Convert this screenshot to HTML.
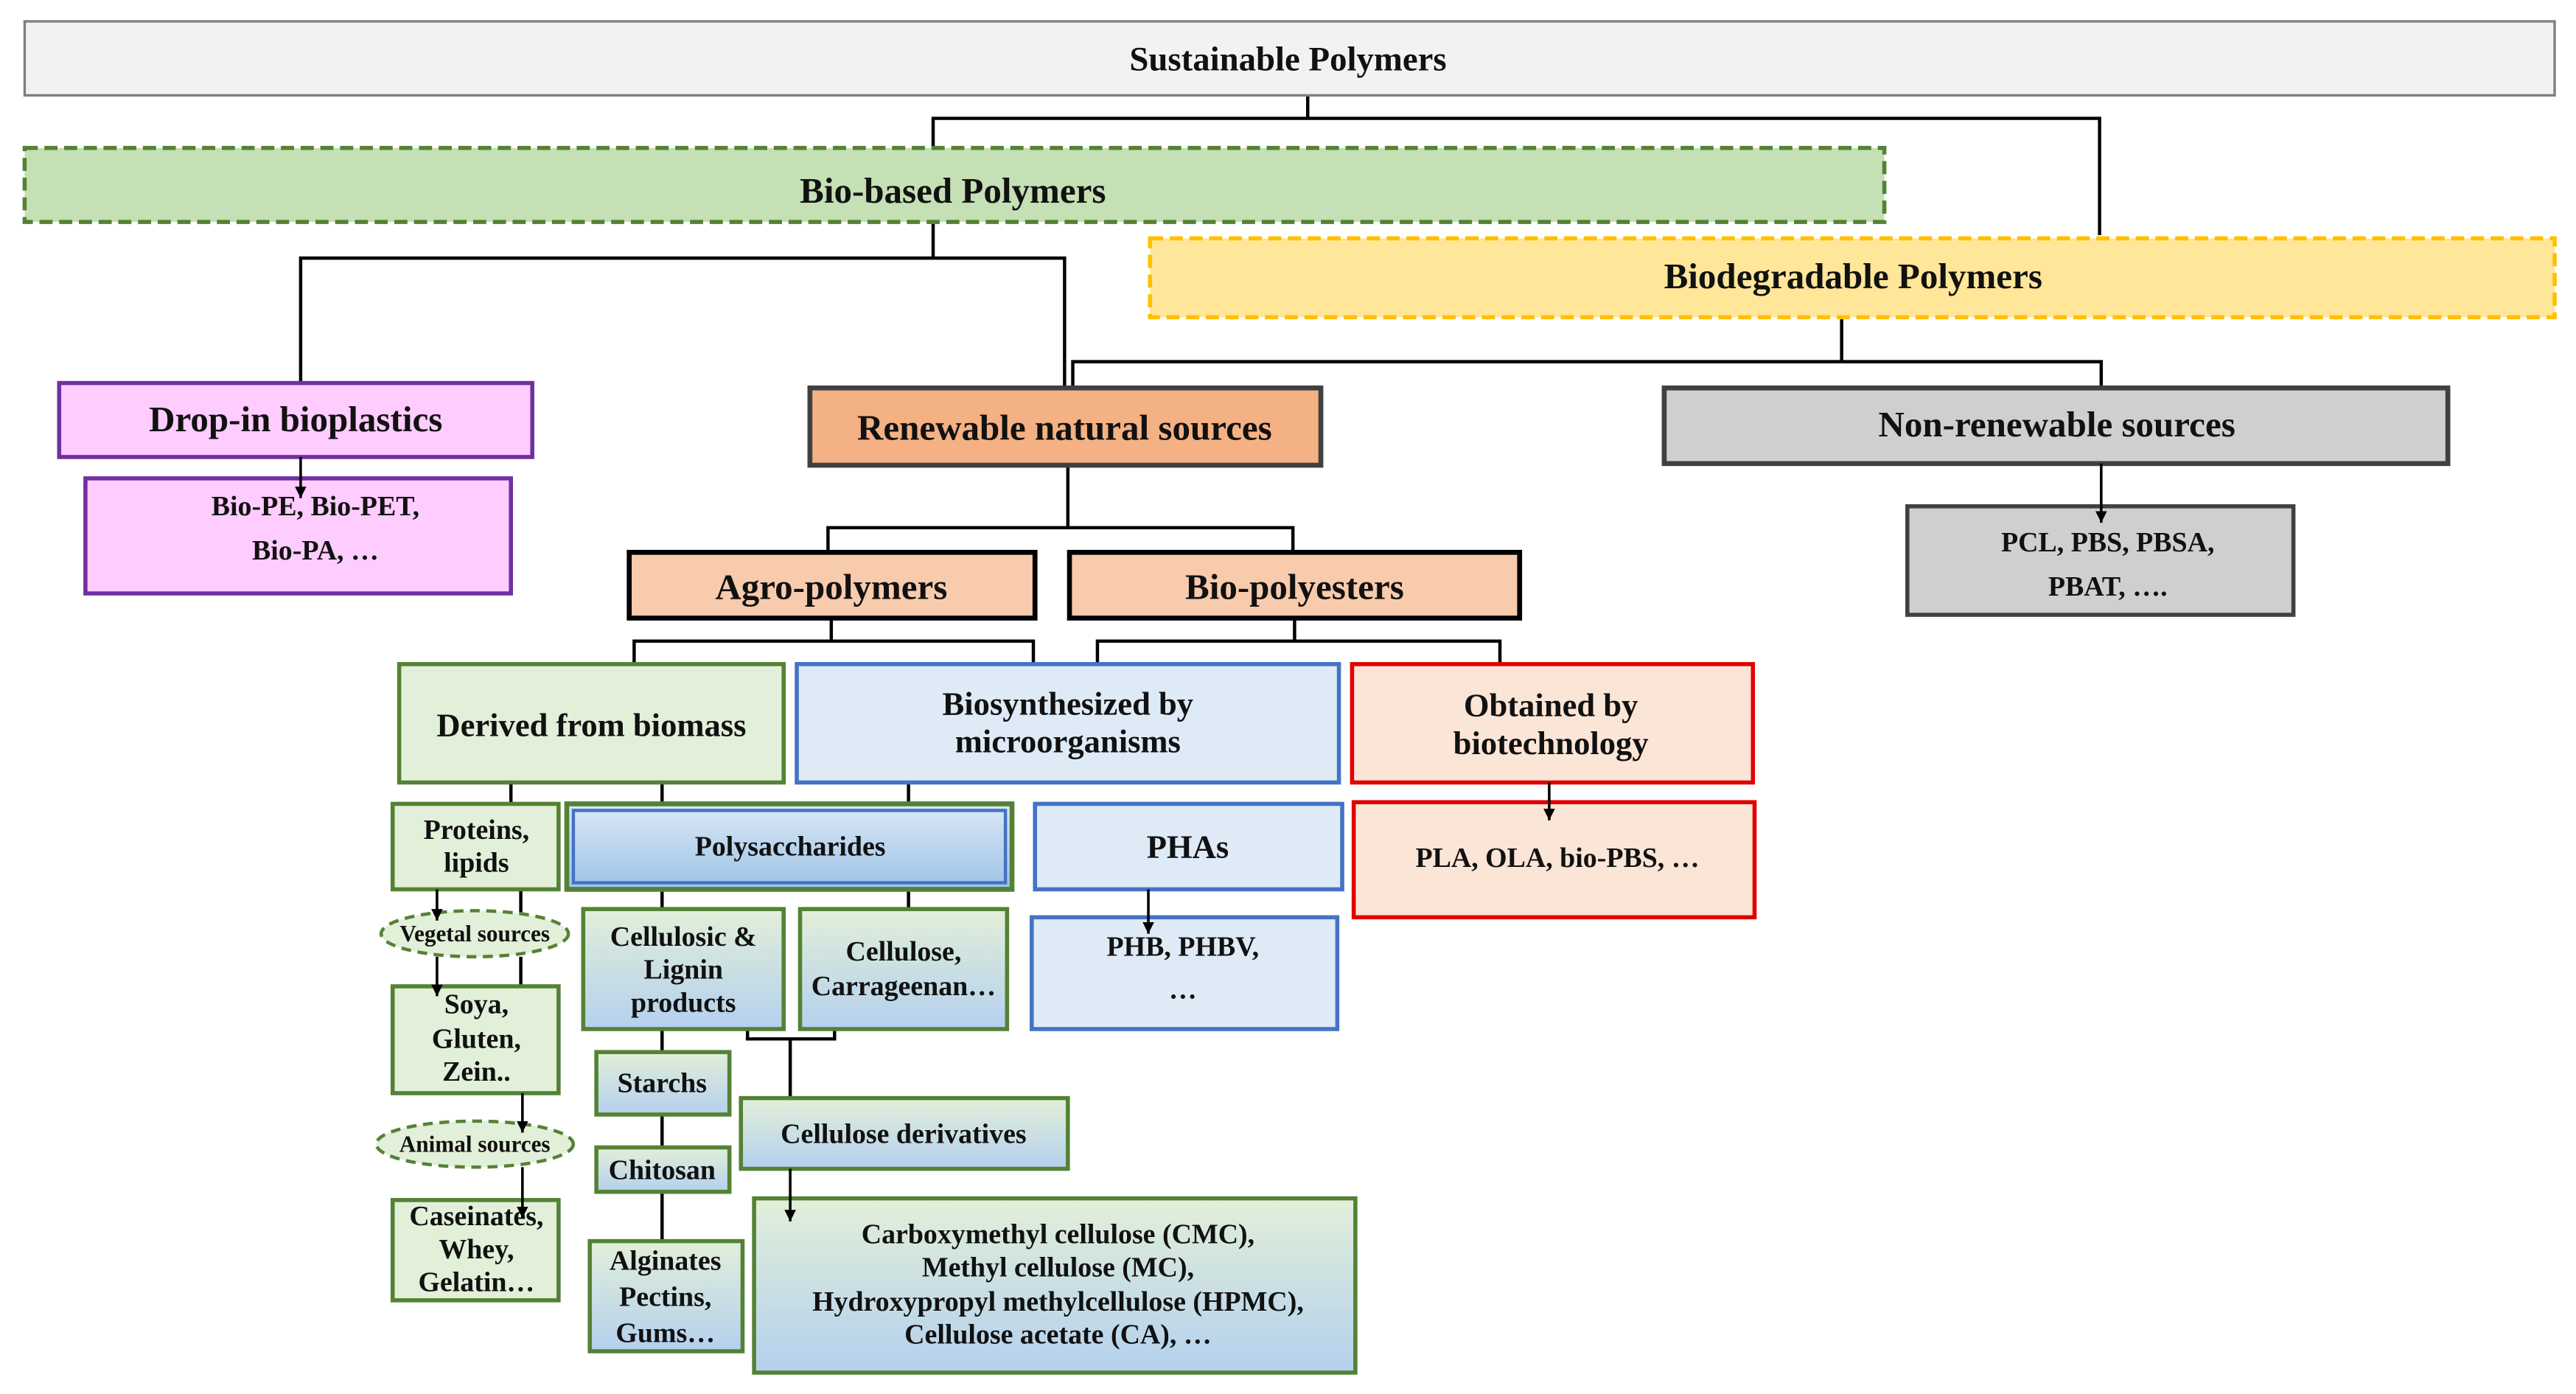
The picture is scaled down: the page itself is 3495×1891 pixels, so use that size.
<!DOCTYPE html>
<html><head><meta charset="utf-8"><style>
html,body{margin:0;padding:0;background:#fff;}
svg{display:block;}
text{font-family:"Liberation Serif",serif;font-weight:bold;fill:#111;text-anchor:middle;dominant-baseline:central;}
</style></head><body>
<svg width="3495" height="1891" viewBox="0 0 1568 848" preserveAspectRatio="none" xmlns="http://www.w3.org/2000/svg">
<defs>
<linearGradient id="gb" x1="0" y1="0" x2="0" y2="1"><stop offset="0" stop-color="#e2efd9"/><stop offset="1" stop-color="#b4d0ee"/></linearGradient>
<linearGradient id="gp" x1="0" y1="0" x2="0" y2="1"><stop offset="0" stop-color="#dbe8f6"/><stop offset="1" stop-color="#9dc3e6"/></linearGradient>
<marker id="a" viewBox="0 0 10 10" refX="10" refY="5" markerWidth="7" markerHeight="7" orient="auto" markerUnits="userSpaceOnUse"><path d="M0,0 L10,5 L0,10 z" fill="#000"/></marker>
</defs>
<g stroke="#000" stroke-width="2" fill="none">
<path d="M796,58V72M568,90V72H1278V143"/>
<path d="M568,135V157M183,233V157H648V236"/>
<path d="M1121,193V220M653,236V220H1279V236"/>
<path d="M650,283V321M504,336V321H787V336"/>
<path d="M506,376V390M386,404V390H629V404"/>
<path d="M788,376V390M668,404V390H913V404"/>
<path d="M311,476V489M403,476V489M553,476V489"/>
<path d="M403,541V553M553,541V553"/>
<path d="M317,541V556M317,582V600"/>
<path d="M403,626V640M403,678V698M403,725V755"/>
<path d="M455,616V632H508V621M481,632V668"/>
</g>
<!-- top -->
<rect x="15" y="13" width="1540" height="45" fill="#f2f2f2" stroke="#7f7f7f" stroke-width="1.5"/>
<text x="784" y="36" font-size="21">Sustainable Polymers</text>
<rect x="15" y="90" width="1132" height="45" fill="#c5e0b4" stroke="#548235" stroke-width="2.5" stroke-dasharray="8,4"/>
<text x="580" y="116" font-size="22">Bio-based Polymers</text>
<rect x="700" y="145" width="855" height="48" fill="#ffe699" stroke="#ffc000" stroke-width="2.5" stroke-dasharray="8,4"/>
<text x="1128" y="168" font-size="22">Biodegradable Polymers</text>
<rect x="36" y="233" width="288" height="45" fill="#ffccff" stroke="#7030a0" stroke-width="2.5"/>
<text x="180" y="255" font-size="22">Drop-in bioplastics</text>
<rect x="52" y="291" width="259" height="70" fill="#ffccff" stroke="#7030a0" stroke-width="2.5"/>
<text x="192" y="308" font-size="17">Bio-PE, Bio-PET,</text>
<text x="192" y="335" font-size="17">Bio-PA, …</text>
<rect x="493" y="236" width="311" height="47" fill="#f4b183" stroke="#404040" stroke-width="3"/>
<text x="648" y="260" font-size="22">Renewable natural sources</text>
<rect x="1013" y="236" width="477" height="46" fill="#d0cece" stroke="#404040" stroke-width="3"/>
<text x="1252" y="258" font-size="22">Non-renewable sources</text>
<rect x="1161" y="308" width="235" height="66" fill="#d0cece" stroke="#404040" stroke-width="2.5"/>
<text x="1283" y="330" font-size="17">PCL, PBS, PBSA,</text>
<text x="1283" y="357" font-size="17">PBAT, ….</text>
<rect x="383" y="336" width="247" height="40" fill="#f8cbad" stroke="#000" stroke-width="3"/>
<text x="506" y="357" font-size="22">Agro-polymers</text>
<rect x="651" y="336" width="274" height="40" fill="#f8cbad" stroke="#000" stroke-width="3"/>
<text x="788" y="357" font-size="22">Bio-polyesters</text>
<rect x="243" y="404" width="234" height="72" fill="#e2efd9" stroke="#548235" stroke-width="2.5"/>
<text x="360" y="441" font-size="20">Derived from biomass</text>
<rect x="485" y="404" width="330" height="72" fill="#deebf7" stroke="#4472c4" stroke-width="2.5"/>
<text x="650" y="428" font-size="20">Biosynthesized by</text>
<text x="650" y="451" font-size="20">microorganisms</text>
<rect x="823" y="404" width="244" height="72" fill="#fbe5d6" stroke="#e00000" stroke-width="2.5"/>
<text x="944" y="429" font-size="20">Obtained by</text>
<text x="944" y="452" font-size="20">biotechnology</text>
<rect x="824" y="488" width="244" height="70" fill="#fbe5d6" stroke="#e00000" stroke-width="2.5"/>
<text x="948" y="522" font-size="17">PLA, OLA, bio-PBS, …</text>
<rect x="239" y="489" width="101" height="52" fill="#e2efd9" stroke="#548235" stroke-width="2.5"/>
<text x="290" y="505" font-size="17">Proteins,</text>
<text x="290" y="525" font-size="17">lipids</text>
<rect x="345" y="489" width="271" height="52" fill="url(#gp)" stroke="#548235" stroke-width="3"/>
<rect x="349" y="493" width="263" height="44" fill="none" stroke="#4472c4" stroke-width="2"/>
<text x="481" y="515" font-size="17">Polysaccharides</text>
<rect x="630" y="489" width="187" height="52" fill="#deebf7" stroke="#4472c4" stroke-width="2.5"/>
<text x="723" y="515" font-size="20">PHAs</text>
<rect x="628" y="558" width="186" height="68" fill="#deebf7" stroke="#4472c4" stroke-width="2.5"/>
<text x="720" y="576" font-size="17">PHB, PHBV,</text>
<text x="720" y="602" font-size="17">…</text>
<ellipse cx="289" cy="568" rx="57" ry="14" fill="#e2efd9" stroke="#548235" stroke-width="2" stroke-dasharray="6,4"/>
<text x="289" y="568" font-size="14">Vegetal sources</text>
<rect x="239" y="600" width="101" height="65" fill="#e2efd9" stroke="#548235" stroke-width="2.5"/>
<text x="290" y="611" font-size="17">Soya,</text>
<text x="290" y="632" font-size="17">Gluten,</text>
<text x="290" y="652" font-size="17">Zein..</text>
<ellipse cx="289" cy="696" rx="60" ry="14" fill="#e2efd9" stroke="#548235" stroke-width="2" stroke-dasharray="6,4"/>
<text x="289" y="696" font-size="14">Animal sources</text>
<rect x="239" y="730" width="101" height="61" fill="#e2efd9" stroke="#548235" stroke-width="2.5"/>
<text x="290" y="740" font-size="17">Caseinates,</text>
<text x="290" y="760" font-size="17">Whey,</text>
<text x="290" y="780" font-size="17">Gelatin…</text>
<rect x="355" y="553" width="122" height="73" fill="url(#gb)" stroke="#548235" stroke-width="2.5"/>
<text x="416" y="570" font-size="17">Cellulosic &amp;</text>
<text x="416" y="590" font-size="17">Lignin</text>
<text x="416" y="610" font-size="17">products</text>
<rect x="487" y="553" width="126" height="73" fill="url(#gb)" stroke="#548235" stroke-width="2.5"/>
<text x="550" y="579" font-size="17">Cellulose,</text>
<text x="550" y="600" font-size="17">Carrageenan…</text>
<rect x="363" y="640" width="81" height="38" fill="url(#gb)" stroke="#548235" stroke-width="2.5"/>
<text x="403" y="659" font-size="17">Starchs</text>
<rect x="363" y="698" width="81" height="27" fill="url(#gb)" stroke="#548235" stroke-width="2.5"/>
<text x="403" y="712" font-size="17">Chitosan</text>
<rect x="359" y="755" width="93" height="67" fill="url(#gb)" stroke="#548235" stroke-width="2.5"/>
<text x="405" y="767" font-size="17">Alginates</text>
<text x="405" y="789" font-size="17">Pectins,</text>
<text x="405" y="811" font-size="17">Gums…</text>
<rect x="451" y="668" width="199" height="43" fill="url(#gb)" stroke="#548235" stroke-width="2.5"/>
<text x="550" y="690" font-size="17">Cellulose derivatives</text>
<rect x="459" y="729" width="366" height="106" fill="url(#gb)" stroke="#548235" stroke-width="2.5"/>
<text x="644" y="751" font-size="17">Carboxymethyl cellulose (CMC),</text>
<text x="644" y="771" font-size="17">Methyl cellulose (MC),</text>
<text x="644" y="792" font-size="17">Hydroxypropyl methylcellulose (HPMC),</text>
<text x="644" y="812" font-size="17">Cellulose acetate (CA), …</text>
<g stroke="#000" stroke-width="1.6" fill="none" marker-end="url(#a)">
<path d="M183,278V303"/>
<path d="M1279,282V318"/>
<path d="M943,476V499"/>
<path d="M699,541V568"/>
<path d="M266,541V560"/>
<path d="M266,582V606"/>
<path d="M318,665V689"/>
<path d="M318,710V741"/>
<path d="M481,711V743"/>
</g>
</svg>
</body></html>
